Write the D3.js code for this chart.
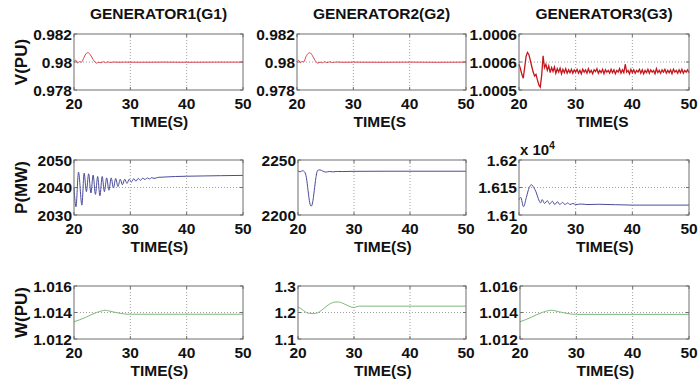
<!DOCTYPE html>
<html><head><meta charset="utf-8">
<script src="https://cdn.jsdelivr.net/npm/d3@7"></script>
<style>
html,body{margin:0;padding:0;background:#fff;}
svg text{font-family:"Liberation Sans",Arial,Helvetica,sans-serif;font-weight:bold;fill:#111;}
</style></head>
<body><svg id="c" width="699" height="386"></svg>
<script>
// ---- data ----
const titles = ["GENERATOR1(G1)", "GENERATOR2(G2)", "GENERATOR3(G3)"];
const yLabels = ["V(PU)", "P(MW)", "W(PU)"];
const xTicks = [20, 30, 40, 50];
const xDomain = [20, 50];

const v1 = [[20,0.98003],[20.3,0.98013],[20.65,0.97993],[21.0,0.98003],[21.35,0.98],[21.8,0.98035],[22.2,0.98062],[22.5,0.98067],[22.9,0.98052],[23.4,0.98018],[24.0,0.97992],[24.4,0.97998],[24.8,0.97994],[25.2,0.98002],[25.6,0.97995],[26.0,0.98001],[26.5,0.97996],[27,0.98],[28,0.97998],[29,0.97999],[32,0.97998],[36,0.97999],[40,0.97998],[45,0.97999],[50,0.97999]];
const v2 = [[20,0.98003],[20.3,0.98012],[20.6,0.97995],[20.9,0.98004],[21.2,0.98],[21.6,0.98038],[22.0,0.98062],[22.3,0.98066],[22.7,0.98048],[23.2,0.98012],[23.7,0.97992],[24.1,0.97999],[24.5,0.97994],[24.9,0.98002],[25.3,0.97995],[25.8,0.98001],[26.3,0.97996],[27,0.98],[28,0.97998],[30,0.97999],[34,0.97998],[40,0.97999],[45,0.97998],[50,0.97999]];
// generator 3 voltage, sampled every 0.25 s from t = 20
const v3Start = 20, v3Step = 0.25;
const v3 = [1.000546,1.000538,1.000528,1.000521,1.000540,1.000560,1.000567,1.000563,1.000553,1.000542,
1.000532,1.000525,1.000528,1.000518,1.000509,1.000505,1.000526,1.000561,1.000540,1.000546,
1.000535,1.000543,1.000531,1.000540,1.000533,1.000541,1.000530,1.000538,1.000532,1.000539,
1.000529,1.000537,1.000531,1.000538,1.000530,1.000536,1.000531,1.000537,1.000530,1.000536,
1.000532,1.000537,1.000530,1.000535,1.000529,1.000537,1.000532,1.000536,1.000530,1.000538,
1.000531,1.000535,1.000529,1.000536,1.000533,1.000538,1.000530,1.000535,1.000531,1.000537,
1.000529,1.000536,1.000532,1.000535,1.000530,1.000537,1.000531,1.000536,1.000529,1.000535,
1.000532,1.000538,1.000530,1.000536,1.000531,1.000546,1.000532,1.000535,1.000529,1.000537,
1.000531,1.000536,1.000530,1.000535,1.000532,1.000537,1.000530,1.000536,1.000529,1.000535,
1.000531,1.000537,1.000530,1.000536,1.000532,1.000535,1.000529,1.000538,1.000531,1.000535,
1.000530,1.000536,1.000532,1.000537,1.000530,1.000535,1.000531,1.000536,1.000529,1.000537,
1.000532,1.000535,1.000530,1.000536,1.000531,1.000537,1.000530,1.000535,1.000532,1.000536,1.000531];

const p1 = [[20,2040],[20.35,2033],[20.8,2045.6],[21.4,2033.6],[21.8,2045.2],[22.2,2038.5],[22.6,2045],[23.0,2038],[23.4,2044.5],[23.8,2037.5],[24.2,2044],[24.6,2037],[25.0,2044],[25.4,2038.5],[25.8,2043.5],[26.2,2039],[26.6,2043.5],[27.0,2039.8],[27.4,2043.3],[27.8,2040.3],[28.2,2043],[28.6,2041],[29.0,2043],[29.4,2041.5],[29.8,2043],[30.2,2042],[30.6,2043.2],[31.0,2042.3],[31.4,2043.3],[31.8,2042.6],[32.2,2043.4],[32.6,2042.9],[33,2043.5],[33.4,2043.1],[33.8,2043.6],[34.2,2043.3],[35,2043.7],[36,2043.8],[38,2044],[40,2044.1],[43,2044.2],[46,2044.3],[50,2044.4]];
const p2 = [[20,2240],[20.4,2239.3],[20.8,2240.3],[21.2,2239],[21.5,2234],[21.8,2222],[22.1,2211],[22.35,2208],[22.6,2211],[22.9,2222],[23.2,2234],[23.5,2240.5],[23.9,2241],[24.4,2240],[25,2239],[25.6,2239.6],[26.2,2239.2],[27,2239.6],[28,2239.5],[30,2239.7],[35,2239.8],[40,2239.8],[50,2239.8]];
const p3 = [[20,1.6128],[20.3,1.6132],[20.8,1.6115],[21.3,1.6132],[21.8,1.6150],[22.2,1.6155],[22.6,1.6150],[23.0,1.6142],[23.4,1.6130],[23.8,1.6122],[24.1,1.6128],[24.5,1.6121],[25.0,1.6126],[25.4,1.6120],[25.9,1.6125],[26.3,1.6119],[26.8,1.6124],[27.2,1.6119],[27.7,1.6123],[28.1,1.6119],[28.6,1.6122],[29.0,1.6119],[29.5,1.6121],[30,1.6119],[31,1.6120],[32,1.6119],[34,1.61195],[40,1.6118],[50,1.6118]];

const w1 = [[20,1.0133],[21,1.01345],[22,1.01362],[23,1.01382],[24,1.01400],[25,1.01413],[25.5,1.01417],[26,1.01414],[27,1.01404],[28,1.01395],[29,1.01389],[29.6,1.01387],[30,1.01387],[50,1.01387]];
const w2 = [[20,1.221],[20.5,1.215],[21,1.207],[21.5,1.200],[22,1.197],[22.8,1.196],[23.5,1.199],[24.2,1.208],[25,1.222],[25.8,1.234],[26.5,1.239],[27,1.240],[27.6,1.238],[28.3,1.232],[29,1.225],[29.6,1.220],[30,1.219],[30.5,1.222],[31,1.224],[50,1.224]];
const w3 = [[20,1.0133],[21,1.01346],[22,1.01364],[23,1.01384],[24,1.01401],[25,1.01414],[25.6,1.01417],[26.2,1.01413],[27,1.01405],[28,1.01396],[29,1.01389],[29.8,1.01386],[30,1.01386],[50,1.01386]];

const yDomains = [[0.978,0.982],[0.978,0.982],[1.0005,1.0006],[2030,2050],[2200,2250],[1.61,1.62],[1.012,1.016],[1.1,1.3],[1.012,1.016]];
const yTickVals = [[0.978,0.98,0.982],[0.978,0.98,0.982],[1.0005,1.00055,1.0006],[2030,2040,2050],[2200,2250],[1.61,1.615,1.62],[1.012,1.014,1.016],[1.1,1.2,1.3],[1.012,1.014,1.016]];
const yTickText = [["0.978","0.98","0.982"],["0.978","0.98","0.982"],["1.0005","1.0006","1.0006"],["2030","2040","2050"],["2200","2250"],["1.61","1.615","1.62"],["1.012","1.014","1.016"],["1.1","1.2","1.3"],["1.012","1.014","1.016"]];
const xLabelText = ["TIME(S)","TIME(S","TIME(S","TIME(S)","TIME(S)","TIME(S)","TIME(S)","TIME(S)","TIME(S)"];

// ---- layout ----
const lefts = [[74,297,519],[74,298,519],[74,298,520]];
const rights = [[243,466,689],[243,466,689],[243,466,689]];
const tops = [34,160,286];
const bottoms = [90,215,339];
const colors = ["#d8444f","#4b4b9c","#7cb97c"];

const v3pts = v3.map((v,i)=>[v3Start + i*v3Step, v]);
const series = [v1,v2,v3pts,p1,p2,p3,w1,w2,w3];

const svg = d3.select("#c");

for (let r=0;r<3;r++){
  for (let c=0;c<3;c++){
    const k = r*3+c;
    const L = lefts[r][c], R = rights[r][c], T = tops[r], B = bottoms[r];
    const x = d3.scaleLinear().domain(xDomain).range([L,R]);
    const y = d3.scaleLinear().domain(yDomains[k]).range([B,T]);
    const g = svg.append("g");
    const gridYs = yTickVals[k].slice(1,-1);
    g.selectAll(".gx").data([30,40]).enter().append("line")
      .attr("x1",d=>x(d)).attr("x2",d=>x(d)).attr("y1",T).attr("y2",B)
      .attr("stroke","#888").attr("stroke-width",0.8).attr("stroke-dasharray","1,2");
    g.selectAll(".gy").data(gridYs).enter().append("line")
      .attr("x1",L).attr("x2",R).attr("y1",d=>y(d)).attr("y2",d=>y(d))
      .attr("stroke","#888").attr("stroke-width",0.8).attr("stroke-dasharray","1,2");
    const line = d3.line().x(d=>x(d[0])).y(d=>y(d[1])).curve(k===2?d3.curveLinear:d3.curveMonotoneX);
    g.append("path").datum(series[k]).attr("d",line).attr("fill","none")
      .attr("stroke", k===2 ? "#c4161c" : colors[r])
      .attr("stroke-width", k===2 ? 1.3 : 1);
    g.append("rect").attr("x",L).attr("y",T).attr("width",R-L).attr("height",B-T)
      .attr("fill","none").attr("stroke","#6f6f6f").attr("stroke-width",1);
    xTicks.forEach(t=>{
      g.append("line").attr("x1",x(t)).attr("x2",x(t)).attr("y1",B).attr("y2",B-3).attr("stroke","#6f6f6f");
      g.append("line").attr("x1",x(t)).attr("x2",x(t)).attr("y1",T).attr("y2",T+3).attr("stroke","#6f6f6f");
    });
    yTickVals[k].forEach(t=>{
      g.append("line").attr("x1",L).attr("x2",L+3).attr("y1",y(t)).attr("y2",y(t)).attr("stroke","#6f6f6f");
      g.append("line").attr("x1",R).attr("x2",R-3).attr("y1",y(t)).attr("y2",y(t)).attr("stroke","#6f6f6f");
    });
    g.selectAll(".xt").data(xTicks).enter().append("text")
      .attr("x",d=>x(d)).attr("y",B+19).attr("text-anchor","middle")
      .attr("font-size","15.5px").text(d=>d);
    g.selectAll(".yt").data(yTickVals[k]).enter().append("text")
      .attr("x",L-2).attr("y",d=>y(d)+5.5).attr("text-anchor","end")
      .attr("font-size","15.5px").text((d,i)=>yTickText[k][i]);
    const cx = (L+R)/2;
    g.append("text").attr("x",cx-28).attr("y",B+37).attr("text-anchor","start")
      .attr("font-size","15.5px").text(xLabelText[k]);
    if (r===0){
      g.append("text").attr("x",cx).attr("y",19).attr("text-anchor","middle")
        .attr("font-size","15.5px").text(titles[c]);
    }
    if (c===0){
      g.append("text").attr("transform",`translate(${27},${(T+B)/2}) rotate(-90)`)
        .attr("text-anchor","middle").attr("font-size","17px").text(yLabels[r]);
    }
    if (k===5){
      const ex = g.append("text").attr("x",L+1).attr("y",T-5).attr("font-size","15px");
      ex.append("tspan").text("x 10");
      ex.append("tspan").attr("dy",-6).attr("font-size","10px").text("4");
    }
  }
}
</script></body></html>
